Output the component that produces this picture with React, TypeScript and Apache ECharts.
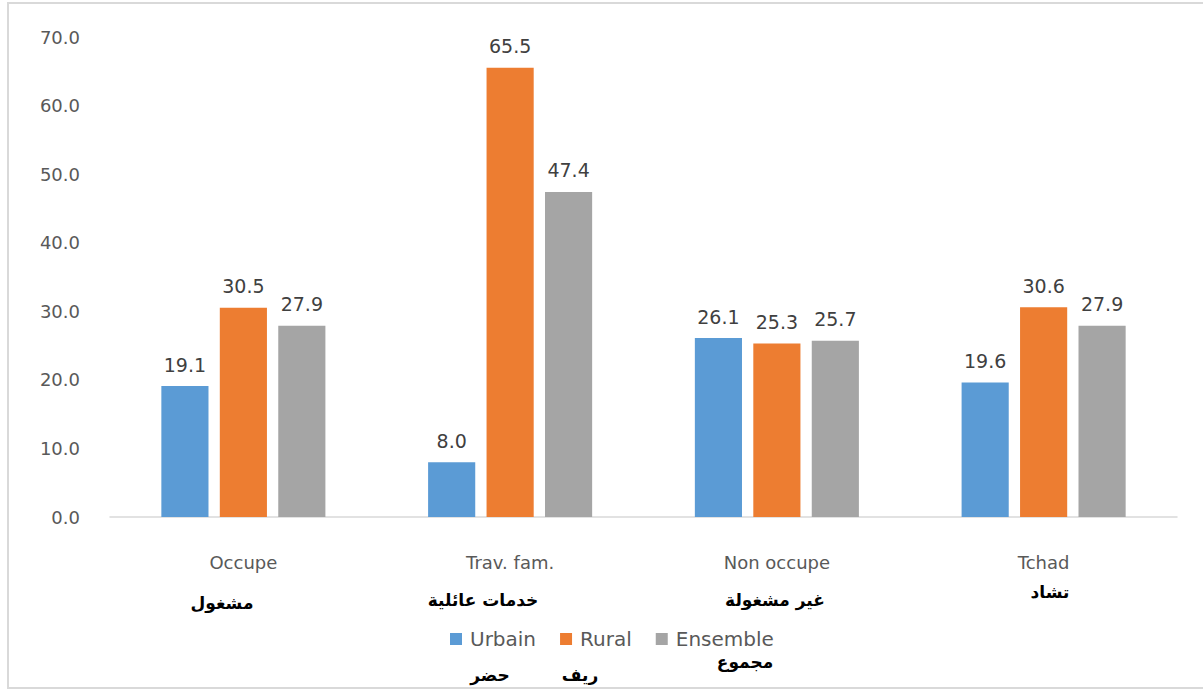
import React, { useEffect, useRef } from "react";
import * as echarts from "echarts";

const categoriesFr = ["Occupe", "Trav. fam.", "Non occupe", "Tchad"];
const categoriesAr = ["مشغول", "خدمات عائلية", "غير مشغولة", "تشاد"];
const seriesNames = ["Urbain", "Rural", "Ensemble"];
const seriesNamesAr = ["حضر", "ريف", "مجموع"];
const urbain = [19.1, 8.0, 26.1, 19.6];
const rural = [30.5, 65.5, 25.3, 30.6];
const ensemble = [27.9, 47.4, 25.7, 27.9];
const colors = ["#5B9BD5", "#ED7D31", "#A5A5A5"];

export default function App() {
  const ref = useRef<HTMLDivElement>(null);
  useEffect(() => {
    if (!ref.current) return;
    const chart = echarts.init(ref.current, null, { renderer: "svg" });
    const values = [urbain, rural, ensemble];
    const latin = "DejaVu Sans";
    const arFont = { fontFamily: "DejaVu Sans", fontSize: 17, fontWeight: "bold" as const, fill: "#000" };
    chart.setOption({
      animation: false,
      backgroundColor: "#fff",
      grid: { left: 110, right: 26, top: 37, bottom: 175 },
      xAxis: {
        type: "category",
        data: categoriesFr,
        axisLine: { lineStyle: { color: "#d9d9d9", width: 1.5 } },
        axisTick: { show: false },
        axisLabel: {
          margin: 36,
          color: "#595959",
          fontFamily: latin,
          fontSize: 18,
        },
      },
      yAxis: {
        type: "value",
        min: 0,
        max: 70,
        interval: 10,
        splitLine: { show: false },
        axisLine: { show: false },
        axisTick: { show: false },
        axisLabel: {
          margin: 30,
          color: "#595959",
          fontFamily: latin,
          fontSize: 18,
          formatter: (v: number) => v.toFixed(1),
        },
      },
      legend: {
        bottom: 38,
        left: 445,
        itemWidth: 12,
        itemHeight: 12,
        itemGap: 24,
        icon: "rect",
        textStyle: { color: "#595959", fontFamily: latin, fontSize: 20, padding: [0, 0, 0, 3] },
        data: seriesNames,
      },
      series: seriesNames.map((name, i) => ({
        name,
        type: "bar",
        data: values[i],
        barGap: "24%",
        barCategoryGap: "38.5%",
        itemStyle: { color: colors[i] },
        label: {
          show: true,
          position: "top",
          distance: 12,
          color: "#404040",
          fontFamily: latin,
          fontSize: 19,
          formatter: (p: any) => Number(p.value).toFixed(1),
        },
      })),
      graphic: [
        {
          type: "rect",
          shape: { x: 8, y: 3, width: 1200, height: 685 },
          style: { fill: "none", stroke: "#d9d9d9", lineWidth: 2 },
          silent: true,
        },
        { type: "text", x: 222, y: 603, style: { ...arFont, text: categoriesAr[0], align: "center", verticalAlign: "middle" } },
        { type: "text", x: 483, y: 600, style: { ...arFont, text: categoriesAr[1], align: "center", verticalAlign: "middle" } },
        { type: "text", x: 775, y: 600, style: { ...arFont, text: categoriesAr[2], align: "center", verticalAlign: "middle" } },
        { type: "text", x: 1050, y: 592, style: { ...arFont, text: categoriesAr[3], align: "center", verticalAlign: "middle" } },
        { type: "text", x: 490, y: 675, style: { ...arFont, text: seriesNamesAr[0], align: "center", verticalAlign: "middle" } },
        { type: "text", x: 580, y: 675, style: { ...arFont, text: seriesNamesAr[1], align: "center", verticalAlign: "middle" } },
        { type: "text", x: 745, y: 662, style: { ...arFont, text: seriesNamesAr[2], align: "center", verticalAlign: "middle" } },
      ],
    });
    return () => chart.dispose();
  }, []);
  return (
    <div
      ref={ref}
      style={{ position: "absolute", left: 0, top: 0, width: 1203, height: 692 }}
    />
  );
}
